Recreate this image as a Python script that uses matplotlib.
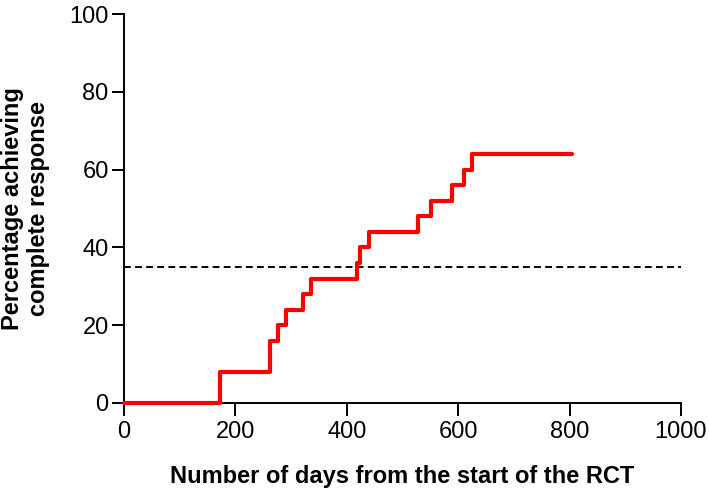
import matplotlib
matplotlib.use("Agg")
import matplotlib.pyplot as plt

plt.rcParams['font.family'] = ['Liberation Sans', 'DejaVu Sans']

# step times (days) and cumulative percentage achieving complete response
days = [0, 172, 263, 277, 290, 321, 335, 419, 424, 439, 528, 551, 589, 611, 624, 805]
pct = [0, 8, 16, 20, 24, 28, 32, 36, 40, 44, 48, 52, 56, 60, 64, 64]
threshold = 35

xticks = [0, 200, 400, 600, 800, 1000]
yticks = [0, 20, 40, 60, 80, 100]

fig = plt.figure(figsize=(7.09, 4.88), dpi=100)
ax = fig.add_axes([0.1749, 0.1742, 0.7856, 0.7971])

ax.axhline(threshold, color='black', lw=1.4, ls=(0, (3.5, 2.2)), zorder=2)
ax.step(days, pct, where='post', color='#ff0000', lw=3.0, clip_on=False,
        solid_capstyle='round', zorder=3)

ax.set_xlim(0, 1000)
ax.set_ylim(0, 100)
ax.set_xticks(xticks)
ax.set_yticks(yticks)

for s in ['top', 'right']:
    ax.spines[s].set_visible(False)
for s in ['left', 'bottom']:
    ax.spines[s].set_linewidth(1.4)
ax.tick_params(direction='out', length=9, width=1.4, labelsize=17)
ax.tick_params(axis='x', pad=4)
ax.tick_params(axis='y', pad=2)

ax.set_xlabel('Number of days from the start of the RCT', fontsize=17,
              fontweight='bold', labelpad=16)
ax.set_ylabel('Percentage achieving\ncomplete response', fontsize=17,
              fontweight='bold', labelpad=14, linespacing=1.15)

fig.savefig('out.png', dpi=100)
